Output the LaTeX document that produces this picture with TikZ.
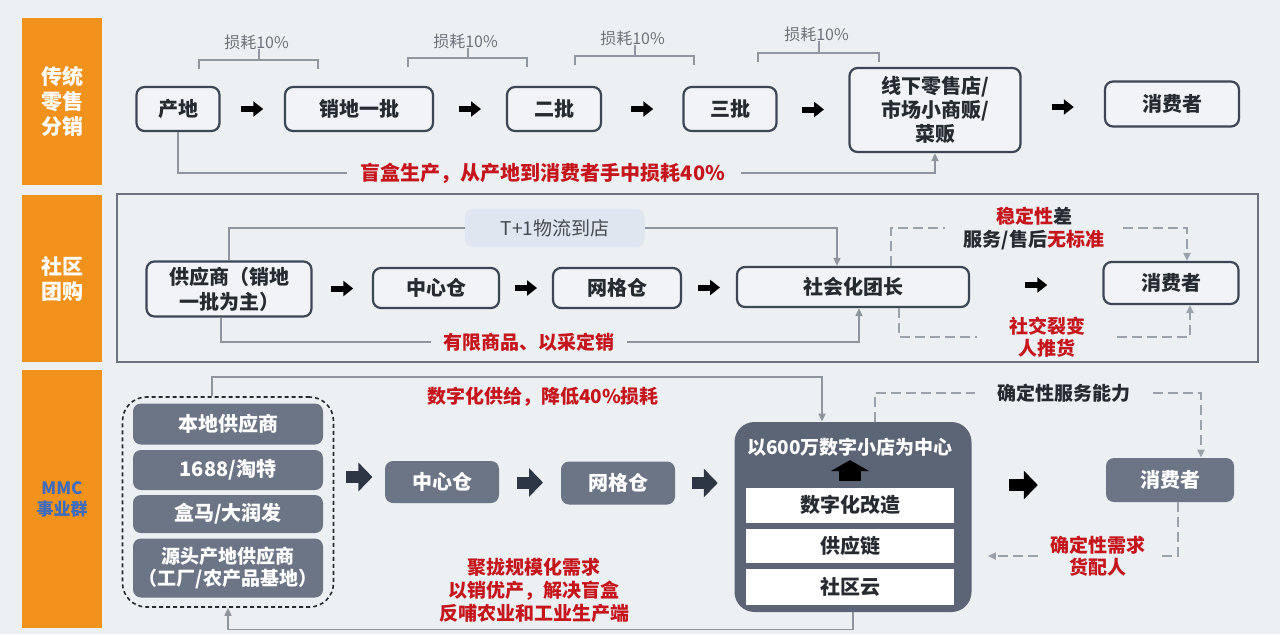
\documentclass[tikz,border=0pt]{standalone}
\usepackage{fontspec}
\setmainfont{Noto Sans CJK SC}
\usetikzlibrary{arrows.meta,calc}

\definecolor{bgc}{HTML}{EDF0F3}
\definecolor{boxc}{HTML}{F1F3F6}
\definecolor{edgec}{HTML}{3D4656}
\definecolor{textc}{HTML}{262A31}
\definecolor{redc}{HTML}{C4161C}
\definecolor{linec}{HTML}{8E959E}
\definecolor{brkc}{HTML}{9097A0}
\definecolor{dashc}{HTML}{9AA2AB}
\definecolor{graytxt}{HTML}{6D737B}
\definecolor{orangec}{HTML}{F0921C}
\definecolor{slatec}{HTML}{6B7585}
\definecolor{hubc}{HTML}{5B6575}
\definecolor{tagc}{HTML}{DFE6EF}
\definecolor{mmcc}{HTML}{3D6CC0}
\definecolor{arrowc}{HTML}{2C3644}
\definecolor{framec}{HTML}{6B7280}

\newcommand\fsBox{\fontsize{10}{12}\selectfont}
\newcommand\fsNote{\fontsize{9.5}{11}\selectfont}
\newcommand\fsLoss{\fontsize{8}{9}\selectfont}
\newcommand\fsSide{\fontsize{10.5}{12.5}\selectfont}

\tikzset{
  sidebar/.style={fill=orangec, minimum width=40pt, inner sep=0pt, align=center, text=white, font=\bfseries\fsSide},
  wbox/.style={draw=edgec, line width=1.1pt, rounded corners=4pt, fill=boxc, text=textc, align=center, inner sep=0pt, font=\bfseries\fsBox},
  gbox/.style={fill=slatec, rounded corners=4pt, text=white, align=center, inner sep=0pt, font=\bfseries\fsBox},
  layer/.style={fill=white, minimum width=104pt, inner sep=0pt, text=textc, font=\bfseries\fsBox},
  note/.style={text=redc, align=center, inner sep=1pt, font=\bfseries\fsNote},
  plain/.style={text=textc, align=center, inner sep=1pt, font=\bfseries\fsNote},
  losslbl/.style={text=graytxt, inner sep=0pt, font=\fsLoss},
  brk/.style={draw=brkc, line width=1pt},
  link/.style={draw=linec, line width=0.8pt},
  tip/.style={-{Triangle[length=4pt,width=3.5pt]}},
  dlink/.style={draw=dashc, line width=1.3pt, dash pattern=on 5pt off 2.5pt},
  blk/.style={draw=black, line width=3pt, -{Triangle[length=5pt,width=7.5pt]}},
  blkbig/.style={draw=arrowc, line width=6pt, -{Triangle[length=7pt,width=14pt]}},
  blkup/.style={draw=black, line width=11pt, -{Triangle[length=5.5pt,width=19pt]}},
}

\begin{document}
\begin{tikzpicture}[x=0.5pt, y=-0.5pt]

% Canvas
\useasboundingbox (0,0) rectangle (1280,634);
\fill[bgc] (0,0) rectangle (1280,634);

% ---------------- Row 1: traditional retail ----------------
\node[sidebar, minimum height=83.5pt] (lab1) at (62,101.5) {传统\\零售\\分销};

\node[wbox, minimum width=41.5pt, minimum height=22pt] (origin) at (178,109) {产地};
\node[wbox, minimum width=74pt, minimum height=22pt] (whole1) at (359,109) {销地一批};
\node[wbox, minimum width=47pt, minimum height=22pt] (whole2) at (554,109) {二批};
\node[wbox, minimum width=46.5pt, minimum height=22pt] (whole3) at (730,109) {三批};
\node[wbox, minimum width=85.5pt, minimum height=42pt] (retail) at (935,110) {线下零售店/\\市场小商贩/\\菜贩};
\node[wbox, minimum width=67pt, minimum height=22.5pt] (buyer1) at (1172,104) {消费者};

\foreach \a/\b in {origin/whole1, whole1/whole2, whole2/whole3, whole3/retail, retail/buyer1}
  \draw[blk] ($(\a.east)!0.5!(\b.west)+(-11,0)$) -- +(22,0);

% loss brackets
\foreach \n/\xa/\xb/\yb/\yl in {1/199/318/60/42, 2/408/527/58/41, 3/575/694/56/38, 4/758/879/53/34} {
  \node[losslbl] (loss\n) at ({(\xa+\xb)/2-2},\yl) {损耗10\%};
  \draw[brk] (\xa,\yb+9) -- (\xa,\yb) -- (\xb,\yb) -- (\xb,\yb+9);
  \draw[brk] ({(\xa+\xb)/2},\yb) -- ({(\xa+\xb)/2},\yl+7);
}

\node[note, font=\bfseries\fsBox] (loss40) at (543,173) {盲盒生产，从产地到消费者手中损耗40\%};
\draw[link] (origin.south) |- ([xshift=-6pt]loss40.west);
\draw[link, tip] ([xshift=7pt]loss40.east) -| (retail.south);

% ---------------- Row 2: community group buying ----------------
\draw[framec, line width=0.6pt] (117,194) rectangle (1258,362);
\node[sidebar, minimum height=83.5pt] (lab2) at (62,278.5) {社区\\团购};

\node[wbox, minimum width=82.5pt, minimum height=27.5pt, font=\bfseries\fontsize{10}{12.5}\selectfont] (supplier) at (229,289) {供应商（销地\\一批为主）};
\node[wbox, minimum width=63pt, minimum height=20pt] (hub2) at (436,288) {中心仓};
\node[wbox, minimum width=64pt, minimum height=20pt] (grid2) at (617,288) {网格仓};
\node[wbox, minimum width=116pt, minimum height=20pt] (leader) at (853,287) {社会化团长};
\node[wbox, minimum width=67.5pt, minimum height=21pt] (buyer2) at (1171,283) {消费者};

\foreach \a/\b in {supplier/hub2, hub2/grid2, grid2/leader, leader/buyer2}
  \draw[blk] ($(\a.east)!0.5!(\b.west)+(-11,0)$) -- +(22,0);

\node[fill=tagc, rounded corners=4pt, minimum width=90pt, minimum height=19pt, inner sep=0pt, text=textc!85, font=\fsNote] (tplus) at (555,228) {T+1物流到店};
\draw[link] (supplier.north) |- (tplus.west);
\draw[link, tip] (tplus.east) -| ([xshift=-8pt]leader.north);

\node[note] (limited) at (529,342) {有限商品、以采定销};
\draw[link] ([xshift=-4pt]supplier.south) |- ([xshift=-5pt]limited.west);
\draw[link, tip] ([xshift=5pt]limited.east) -| ([xshift=3pt]leader.south);

\node[plain, font=\bfseries\fontsize{9.5}{11.5}\selectfont] (stable) at (1034,228) {\textcolor{redc}{稳定性}差\\服务/售后\textcolor{redc}{无标准}};
\draw[dlink] ([xshift=19pt]leader.north) |- ([xshift=-8pt]stable.west);
\draw[dlink, tip] ([xshift=8pt]stable.east) -| ([xshift=8pt]buyer2.north);

\node[note] (fission) at (1047,337) {社交裂变\\人推货};
\draw[dlink] ([xshift=23pt]leader.south) |- ([xshift=-15pt]fission.west);
\draw[dlink, tip] ([xshift=15pt]fission.east) -| ([xshift=9.5pt]buyer2.south);

% ---------------- Row 3: MMC business group ----------------
\node[sidebar, minimum height=129pt, text=mmcc, font=\bfseries\fontsize{8.5}{10.5}\selectfont] (lab3) at (62,499) {MMC\\事业群};

\node[draw=textc, line width=0.8pt, dash pattern=on 2pt off 1.5pt, rounded corners=12pt, minimum width=105.5pt, minimum height=105pt] (sources) at (228,502) {};
\node[gbox, minimum width=95pt, minimum height=20.5pt] (src1) at (228,424) {本地供应商};
\node[gbox, minimum width=95pt, minimum height=20pt] (src2) at (228,470) {1688/淘特};
\node[gbox, minimum width=95pt, minimum height=19pt] (src3) at (228,514) {盒马/大润发};
\node[gbox, minimum width=95pt, minimum height=29.5pt, font=\bfseries\fontsize{9.5}{11}\selectfont] (src4) at (228,568) {源头产地供应商\\（工厂/农产品基地）};

\node[gbox, minimum width=57pt, minimum height=21pt] (hub3) at (442,482) {中心仓};
\node[gbox, minimum width=57pt, minimum height=21.5pt] (grid3) at (618,483) {网格仓};

\node[fill=hubc, rounded corners=10pt, minimum width=118.5pt, minimum height=95pt] (store) at (853,517) {};
\node[text=white, inner sep=0pt, font=\bfseries\fontsize{9.5}{11}\selectfont] (storet) at (850,447) {以600万数字小店为中心};
\node[layer, minimum height=17.5pt] (digital) at (850,505) {数字化改造};
\node[layer, minimum height=17pt] (chain) at (850,546) {供应链};
\node[layer, minimum height=18pt] (cloud) at (850,587) {社区云};
\draw[blkup] ([yshift=3pt]digital.north) -- +(0,-21);

\node[gbox, minimum width=64pt, minimum height=22pt] (buyer3) at (1170,480) {消费者};

\draw[blkbig] ($(sources.east |- hub3.west)!0.5!(hub3.west)+(-13,-5)$) -- +(26,0);
\draw[blkbig] ($(hub3.east)!0.5!(grid3.west)+(-13,0)$) -- +(26,0);
\draw[blkbig] ($(grid3.east)!0.5!(grid3.east -| store.west)+(-13,0)$) -- +(26,0);
\draw[blkbig, draw=black] ($(store.east |- buyer3.west)!0.5!(buyer3.west)+(-30,5)$) -- +(29,0);

\node[note] (digisup) at (543,397) {数字化供给，降低40\%损耗};
\draw[link, tip] ([xshift=-8pt]sources.north) -- ++(0,-19) -| ([xshift=-15.5pt]store.north);

\node[plain] (service) at (1064,393) {确定性服务能力};
\draw[dlink] ([xshift=11pt]store.north) |- ([xshift=-10pt]service.west);
\draw[dlink, tip] ([xshift=10pt]service.east) -| ([xshift=15.5pt]buyer3.north);

\node[note] (demand) at (1098,556) {确定性需求\\货配人};
\draw[dlink] ([xshift=4pt]buyer3.south) |- ([xshift=7pt]demand.east);
\draw[dlink, tip] ([xshift=-5pt]demand.west) -- ([xshift=8pt]store.east |- demand.west);

\node[note, font=\bfseries\fontsize{9.5}{11.5}\selectfont] (scale) at (534,590) {聚拢规模化需求\\以销优产，解决盲盒\\反哺农业和工业生产端};
\draw[link, tip] (store.south) -- ++(0,17) -| (sources.south);

\end{tikzpicture}
\end{document}
